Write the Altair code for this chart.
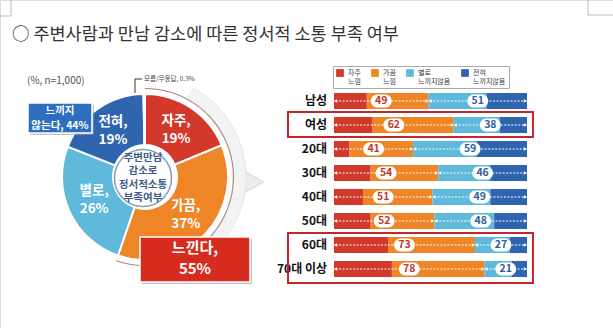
import altair as alt
import pandas as pd

FONT = "Noto Sans CJK KR"

title_text = "○ 주변사람과 만남 감소에 따른 정서적 소통 부족 여부"
note_text = "(%, n=1,000)"
dk_text = "모름/무응답, 0.3%"
center_lines = ["주변만남", "감소로", "정서적소통", "부족여부"]
not_feel_box = ["느끼지", "않는다, 44%"]
feel_box = ["느낀다,", "55%"]

pie_cats = ["자주", "가끔", "별로", "전혀", "모름/무응답"]
pie_vals = [19, 37, 26, 19, 0.3]
pie_labels = ["자주,\n19%", "가끔,\n37%", "별로,\n26%", "전혀,\n19%", ""]

rows = ["남성", "여성", "20대", "30대", "40대", "50대", "60대", "70대 이상"]
often = [17, 20, 8, 19, 15, 19, 28, 30]
sometimes = [32, 42, 33, 35, 36, 33, 45, 48]
rarely = [30, 24, 33, 27, 30, 31, 18, 14]
never = [21, 14, 26, 19, 19, 17, 9, 8]
feel_lbl = [49, 62, 41, 54, 51, 52, 73, 78]
notfeel_lbl = [51, 38, 59, 46, 49, 48, 27, 21]

colors = ["#D2392B", "#EE8526", "#5EB9DA", "#2F65AF", "#E6E6E6"]

# ---------- data frames ----------
df_pie = pd.DataFrame({"cat": pie_cats, "value": pie_vals,
                       "idx": list(range(len(pie_cats))), "label": pie_labels})
recs = []
for i, r in enumerate(rows):
    for j, (c, arr) in enumerate(zip(pie_cats[:4], [often, sometimes, rarely, never])):
        recs.append({"row": r, "cat": c, "value": arr[i], "idx": j})
df_bars = pd.DataFrame(recs)
df_rows = pd.DataFrame({"row": rows,
                        "feel": [a + b for a, b in zip(often, sometimes)],
                        "fl": feel_lbl, "nl": notfeel_lbl})
one = pd.DataFrame({"d": [0]})

label_expr = ("datum.label == '자주' ? ['자주','느낌'] : datum.label == '가끔' ? ['가끔','느낌'] : "
              "datum.label == '별로' ? ['별로','느끼지않음'] : ['전혀','느끼지않음']")
color_enc = alt.Color(
    "cat:N",
    scale=alt.Scale(domain=pie_cats, range=colors),
    legend=alt.Legend(orient="none", legendX=333, legendY=66, direction="horizontal",
                      title=None, values=pie_cats[:4], symbolType="square", symbolSize=60,
                      symbolStrokeWidth=0, labelFont=FONT, labelFontSize=7, labelColor="#333",
                      labelExpr=label_expr, columnPadding=10, padding=3, columns=4,
                      strokeColor="#AAAAAA", fillColor="white", labelOffset=4),
)

CX, CY = 145, 177

# ---------- pie ----------
pie_base = alt.Chart(df_pie)
pie = pie_base.mark_arc(outerRadius=83, innerRadius=32, stroke="white", strokeWidth=2).encode(
    theta=alt.Theta("value:Q", stack=True), color=color_enc,
    order=alt.Order("idx:Q"), x=alt.value(CX), y=alt.value(CY))
outer_ring = pie_base.mark_arc(outerRadius=89, innerRadius=88, color="#B07E7E").encode(
    theta=alt.Theta("value:Q", stack=True), order=alt.Order("idx:Q"), detail="cat:N",
    opacity=alt.condition("datum.idx < 2", alt.value(1), alt.value(0)),
    x=alt.value(CX), y=alt.value(CY))
pie_text = pie_base.mark_text(font=FONT, fontSize=13.5, fontWeight="bold", color="white",
                              lineBreak="\n", lineHeight=18, dy=-9).encode(
    theta=alt.Theta("value:Q", stack=True), order=alt.Order("idx:Q"), detail="cat:N",
    radius=alt.value(56), text="label:N", x=alt.value(CX), y=alt.value(CY))
inner = alt.Chart(one).mark_point(shape="circle", size=3250, filled=True, fill="white",
                                  stroke="#8A9AB5", strokeWidth=1.5, opacity=1).encode(
    x=alt.value(CX - 2), y=alt.value(CY + 1))

# faint chevron behind the pie, pointing to the bars
chev_band = alt.Chart(one).mark_arc(innerRadius=88, outerRadius=101, fill="#F3F3F3",
                                    stroke="#E6E6E6", strokeWidth=1).encode(
    theta=alt.value(0.5), theta2=alt.value(2.55), x=alt.value(CX), y=alt.value(CY))
chev_tip = alt.Chart(one).mark_point(shape="triangle-right", filled=True, fill="#EDEDED",
                                     stroke="#E2E2E2", size=420, opacity=1).encode(
    x=alt.value(254), y=alt.value(182))


# ---------- helpers for annotations ----------
def rect(x, x2, y, y2, **kw):
    return alt.Chart(one).mark_rect(**kw).encode(
        x=alt.value(x), x2=alt.value(x2), y=alt.value(y), y2=alt.value(y2))


def rule(x, x2, y, y2, **kw):
    return alt.Chart(one).mark_rule(**kw).encode(
        x=alt.value(x), x2=alt.value(x2), y=alt.value(y), y2=alt.value(y2))


def txt(x, y, t, lh=None, **kw):
    if isinstance(t, list) and lh:
        y = y - (len(t) - 1) * lh / 2
        kw["lineHeight"] = lh
    return alt.Chart(one).mark_text(text=t, font=FONT, **kw).encode(
        x=alt.value(x), y=alt.value(y))


center_txt = txt(CX - 2, CY + 1, center_lines, lh=13.5, fontSize=10.5,
                 fontWeight="bold", color="#3D5C8C")

annots = [
    rule(11, 11, 0, 16, color="#BBBBBB"), rule(0, 11, 16, 16, color="#BBBBBB"),
    rule(588, 588, 0, 15, color="#BBBBBB"), rule(588, 613, 15, 15, color="#BBBBBB"),
    txt(12, 35, title_text, fontSize=17.5, align="left", color="#333333"),
    txt(27, 81, note_text, fontSize=10, align="left", color="#555555"),
    txt(144, 79, dk_text, fontSize=6.5, align="left", color="#444444"),
    rule(135, 142, 79, 79, color="#333333"), rule(135, 135, 79, 93, color="#333333"),
    rect(30, 94, 105, 135, color="#999999", opacity=0.6),
    rect(28, 92, 103, 133, color="#2E6EBF", stroke="white", strokeWidth=1.5),
    txt(60, 118.5, not_feel_box, lh=15, fontSize=10.5, fontWeight="bold", color="white"),
    rect(142, 252, 239, 284, color="#999999", opacity=0.6),
    rect(140, 250, 237, 282, color="#D62B1E", stroke="white", strokeWidth=1.5),
    txt(195, 258, feel_box, lh=21, fontSize=15, fontWeight="bold", color="white"),
]

# ---------- bars ----------
xs = alt.Scale(domain=[0, 100], range=[334, 527], nice=False)
ys = alt.Scale(domain=rows, range=[89, 281], paddingInner=0.33, paddingOuter=0.165)
Y = alt.Y("row:N", scale=ys, axis=None)

bars = alt.Chart(df_bars).mark_bar().encode(
    x=alt.X("value:Q", stack="zero", scale=xs, axis=None), y=Y,
    color=color_enc, order=alt.Order("idx:Q"))

rb = alt.Chart(df_rows).transform_calculate(
    midL="datum.feel/2", midR="datum.feel + (100-datum.feel)/2",
    l1="0.8", l2="datum.feel-0.8", r1="datum.feel+0.8", r2="99.2")

dashL = rb.mark_rule(color="white", strokeDash=[2, 1.5], strokeWidth=1).encode(
    x=alt.X("l1:Q", scale=xs, axis=None), x2="l2:Q", y=Y)
dashR = rb.mark_rule(color="white", strokeDash=[2, 1.5], strokeWidth=1).encode(
    x=alt.X("r1:Q", scale=xs, axis=None), x2="r2:Q", y=Y)
triL = rb.transform_fold(["l1", "r1"], as_=["k", "pos"]).mark_point(
    shape="triangle-left", filled=True, color="white", size=14, opacity=1).encode(
    x=alt.X("pos:Q", scale=xs, axis=None), y=Y)
triR = rb.transform_fold(["l2", "r2"], as_=["k", "pos"]).mark_point(
    shape="triangle-right", filled=True, color="white", size=14, opacity=1).encode(
    x=alt.X("pos:Q", scale=xs, axis=None), y=Y)

chipL = rb.transform_calculate(a="datum.midL-5.4", b="datum.midL+5.4").mark_bar(
    height=13, cornerRadius=6.5, color="white").encode(
    x=alt.X("a:Q", scale=xs, axis=None), x2="b:Q", y=Y)
chipR = rb.transform_calculate(a="datum.midR-5.4", b="datum.midR+5.4").mark_bar(
    height=13, cornerRadius=6.5, color="white").encode(
    x=alt.X("a:Q", scale=xs, axis=None), x2="b:Q", y=Y)
numL = rb.mark_text(font=FONT, fontSize=10.5, fontWeight="bold", color="#C0392B").encode(
    x=alt.X("midL:Q", scale=xs, axis=None), y=Y, text="fl:Q")
numR = rb.mark_text(font=FONT, fontSize=10.5, fontWeight="bold", color="#2E5E9E").encode(
    x=alt.X("midR:Q", scale=xs, axis=None), y=Y, text="nl:Q")

row_lbl = alt.Chart(df_rows).mark_text(font=FONT, fontSize=12, fontWeight="bold",
                                        color="#111111", align="right").encode(
    x=alt.value(327), y=Y, text="row:N")

hl = [
    rect(288, 533, 112, 137, fill=None, filled=False, stroke="#C0282D", strokeWidth=2),
    rect(288, 533, 233, 283, fill=None, filled=False, stroke="#C0282D", strokeWidth=2),
]

chart = alt.layer(
    *annots[:4], chev_tip, chev_band, outer_ring, pie, inner, center_txt, pie_text, *annots[4:],
    bars, dashL, dashR, triL, triR, chipL, chipR, numL, numR, row_lbl, *hl,
).properties(
    width=613, height=328, padding=0,
    autosize=alt.AutoSizeParams(type="none"),
).configure_view(stroke=None).configure(font=FONT)

chart.save("out.html", embed_options={"renderer": "svg", "actions": False})
